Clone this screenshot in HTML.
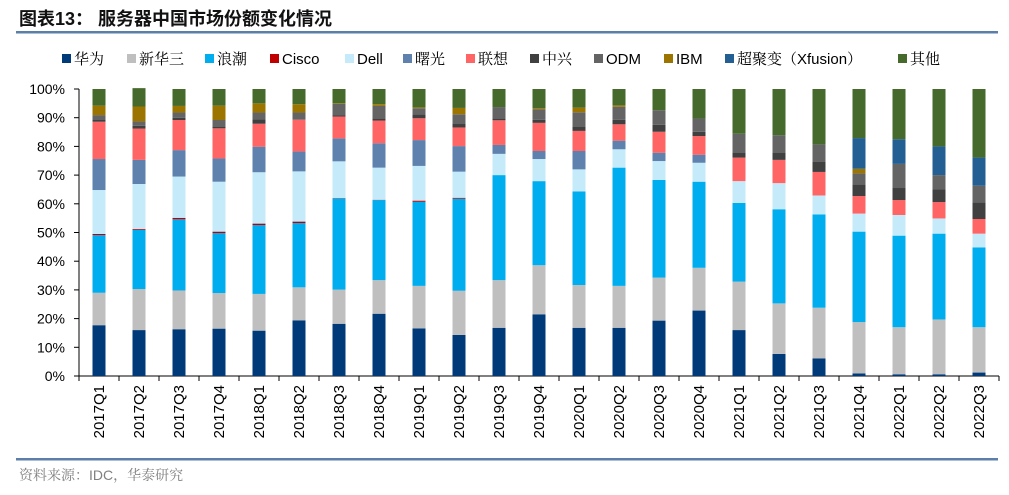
<!DOCTYPE html>
<html><head><meta charset="utf-8"><style>
body{margin:0;width:1009px;height:490px;background:#fff;overflow:hidden;font-family:"Liberation Sans","Noto Sans CJK SC",sans-serif}
</style></head><body>
<svg id="c" width="1009" height="490" xmlns="http://www.w3.org/2000/svg">
<text x="19" y="25" font-size="18" font-weight="bold" fill="#111" font-family="Liberation Sans, Noto Sans CJK SC, sans-serif">图表13：  服务器中国市场份额变化情况</text>
<rect x="16" y="31" width="982" height="2.5" fill="#5b7fa8"/>
<rect x="16" y="458" width="982" height="2.5" fill="#5b7fa8"/>
<text x="19" y="480" font-size="14" fill="#808080" font-family="Liberation Sans, Noto Serif CJK SC, serif">资料来源：IDC，华泰研究</text>
<g id="legend"></g><g id="axes"></g><g id="bars"></g>
</svg>
<script>
const categories=["2017Q1","2017Q2","2017Q3","2017Q4","2018Q1","2018Q2","2018Q3","2018Q4","2019Q1","2019Q2","2019Q3","2019Q4","2020Q1","2020Q2","2020Q3","2020Q4","2021Q1","2021Q2","2021Q3","2021Q4","2022Q1","2022Q2","2022Q3"];
const seriesNames=["华为","新华三","浪潮","Cisco","Dell","曙光","联想","中兴","ODM","IBM","超聚变（Xfusion）","其他"];
const huawei=[17.7,16.0,16.3,16.5,15.8,19.4,18.2,21.7,16.6,14.3,16.8,21.5,16.8,16.8,19.3,22.8,16.0,7.7,6.1,0.9,0.6,0.6,1.2];
const h3c=[11.3,14.3,13.5,12.4,12.8,11.5,11.9,11.7,14.8,15.4,16.6,17.1,14.9,14.6,15.0,14.9,16.9,17.6,17.7,17.9,16.4,19.1,15.8];
const inspur=[20.1,20.6,24.8,20.9,24.0,22.4,31.8,27.9,29.3,32.1,36.6,29.3,32.6,41.2,34.0,30.0,27.4,32.8,32.5,31.5,31.9,29.9,27.8];
const cisco=[0.4,0.3,0.5,0.5,0.5,0.5,0.1,0.1,0.4,0.3,0,0,0,0,0,0,0,0,0,0,0,0,0];
const dell=[15.3,15.7,14.4,17.4,17.9,17.5,12.8,11.2,12.1,9.1,7.4,7.7,7.7,6.4,6.6,6.6,7.6,9.1,6.6,6.3,7.2,5.3,4.8];
const sugon=[10.8,8.4,9.2,8.1,8.9,6.9,8.0,8.5,9.0,8.9,3.1,2.8,6.4,3.0,2.9,2.8,0,0,0,0,0,0,0];
const lenovo=[13.0,10.9,10.5,10.5,8.0,11.1,7.6,7.9,7.6,6.5,8.6,9.8,7.0,5.7,7.3,6.5,8.2,8.1,8.2,6.1,5.2,5.7,5.1];
const zte=[0.6,1.0,0.8,0.6,1.5,0,0.5,0.8,1.4,1.2,0.7,1.1,1.5,1.6,2.4,1.5,1.6,2.4,3.6,4.1,4.2,4.4,5.8];
const odm=[1.7,1.5,1.8,2.3,2.4,2.5,3.9,4.3,2.1,3.4,3.9,3.6,5.0,4.5,5.1,4.6,6.7,6.2,6.0,3.8,8.4,5.0,5.8];
const ibm=[3.3,5.2,2.3,5.0,3.2,2.9,0.2,0.6,0.3,2.2,0,0.4,1.6,0.5,0,0,0,0,0,1.6,0,0,0];
const xfusion=[0,0,0,0,0,0,0,0,0,0,0,0,0,0,0,0,0,0,0,10.7,8.6,10.0,9.8];
const other=[5.8,6.4,5.9,5.8,5.0,5.3,5.0,5.3,6.4,6.6,6.3,6.7,6.5,5.7,7.4,10.3,15.6,16.1,19.3,17.1,17.5,20.0,23.9];
const yTicks=["0%","10%","20%","30%","40%","50%","60%","70%","80%","90%","100%"];
const series=[huawei,h3c,inspur,cisco,dell,sugon,lenovo,zte,odm,ibm,xfusion,other];
const colors=["#003a78","#bfbfbf","#00adee","#c00000","#c5eaf9","#5f81ad","#ff6565","#404040","#646464","#9c7500","#245f94","#456a2c"];
const NS="http://www.w3.org/2000/svg";
const X0=79,CW=40,Y0=376,Y100=89;
const y=v=>Y0-(Y0-Y100)*v/100;
const xc=i=>X0+CW*(i+0.5);
function mk(t,a,p){const e=document.createElementNS(NS,t);for(const k in a)e.setAttribute(k,a[k]);p.appendChild(e);return e;}
const F="Liberation Sans, Noto Sans CJK SC, sans-serif";
const FL="Liberation Sans, Noto Serif CJK SC, serif";
const axes=document.getElementById('axes');
let l=mk('line',{x1:X0,y1:Y100,x2:X0,y2:Y0,stroke:'#000','stroke-width':1},axes);


l=mk('line',{x1:X0,y1:Y0,x2:X0+CW*categories.length,y2:Y0,stroke:'#000','stroke-width':1},axes);


yTicks.forEach((t,i)=>{const v=i*10;
 const tk=mk('line',{x1:X0-5,y1:y(v),x2:X0,y2:y(v),stroke:'#000'},axes);
 
 
 const tx=mk('text',{x:X0-14,y:y(v)+5,'text-anchor':'end','font-size':14,'font-family':F,fill:'#000'},axes);tx.textContent=t;
 
 
});
for(let i=0;i<=categories.length;i++){const tk=mk('line',{x1:X0+CW*i,y1:Y0,x2:X0+CW*i,y2:Y0+5,stroke:'#000'},axes);
 
 }
categories.forEach((c,i)=>{const tx=mk('text',{x:0,y:0,transform:`translate(${xc(i)+5},${Y0+9}) rotate(-90)`,'text-anchor':'end','font-size':15,'font-family':F,fill:'#000'},axes);tx.textContent=c;
 
 });
const bars=document.getElementById('bars');
categories.forEach((c,i)=>{let cum=0;series.forEach((s,k)=>{const v=s[i];if(v>0){const r=mk('rect',{x:xc(i)-6.5,y:y(cum+v),width:13,height:y(cum)-y(cum+v),fill:colors[k]},bars);
 
 }cum+=v;});});
const lg=document.getElementById('legend');
const lx=[62,127,205,270,345,403,466,530,594,664,725,898];
seriesNames.forEach((n,k)=>{const g=mk('g',{},lg);
 
 
 mk('rect',{x:lx[k],y:54,width:9,height:9,fill:colors[k]},g);
 const t=mk('text',{x:lx[k]+12,y:64,'font-size':15,'font-family':FL,fill:'#000'},g);t.textContent=n;});
</script>
</body></html>
